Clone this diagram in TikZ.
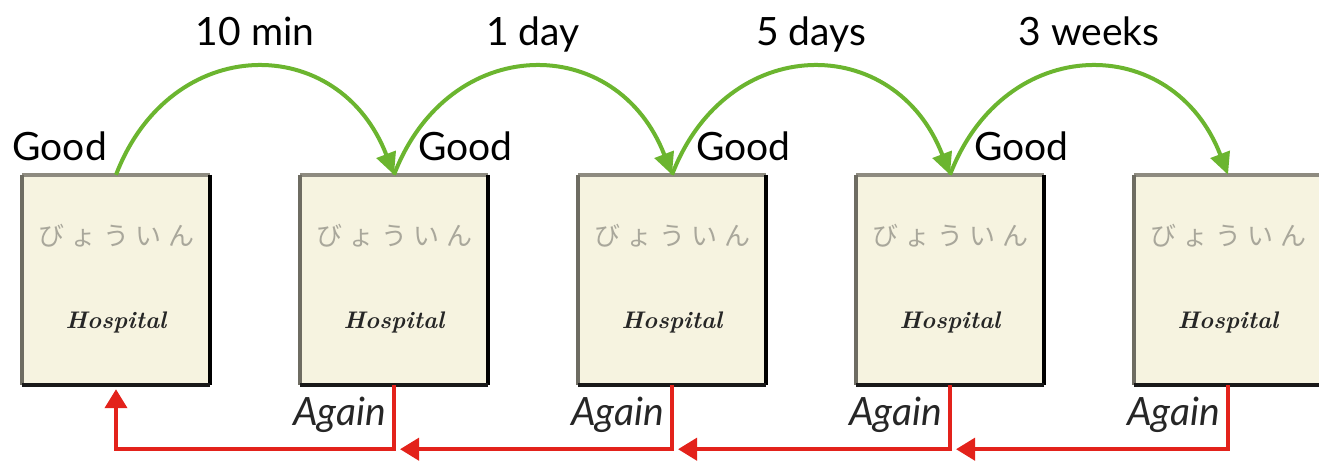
\documentclass[tikz,border=0pt]{standalone}
\usepackage{fontspec}
\setmainfont{Lato}
\newfontfamily\jpfont{Noto Sans CJK JP}
\usetikzlibrary{arrows.meta,calc}
\definecolor{cream}{HTML}{F6F3E0}
\definecolor{goodgreen}{HTML}{6BB52F}
\definecolor{againred}{HTML}{E3221B}
\definecolor{topgray}{HTML}{8E8B80}
\definecolor{leftgray}{HTML}{6E6C62}
\definecolor{jpgray}{HTML}{A9A79B}
\tikzset{
  card/.style={fill=cream, minimum width=187pt, minimum height=210pt, inner sep=0pt},
  jp/.style={font=\jpfont\fontsize{26}{28}\selectfont, text=jpgray, inner sep=0pt},
  hosp/.style={font=\fontspec{Latin Modern Roman}\bfseries\itshape\fontsize{24}{26}\selectfont, text=black!85, inner sep=0pt},
  lbl/.style={font=\fontsize{39}{42}\selectfont, inner sep=0pt},
  agl/.style={font=\itshape\fontsize{39}{42}\selectfont, inner sep=0pt, text=black!85},
  goodarc/.style={draw=goodgreen, line width=4pt, -{Triangle[length=22pt,width=20pt]}},
  againarrow/.style={draw=againred, line width=4pt, -{Triangle[length=19pt,width=22pt]}},
}
\newcommand{\cardborder}[1]{%
  \draw[topgray, line width=4pt] (#1.north west) -- (#1.north east);
  \draw[leftgray, line width=4pt] (#1.north west) -- (#1.south west);
  \draw[black, line width=4pt] (#1.north east) -- (#1.south east);
  \draw[black!90, line width=4pt] (#1.south west) -- (#1.south east);
}
\begin{document}
\begin{tikzpicture}[x=1pt,y=-1pt]
\useasboundingbox (0,0) rectangle (1319,463);
\foreach \i/\cx in {1/116,2/394,3/672,4/950,5/1228}{
  \node[card] (b\i) at (\cx,280) {};
  \cardborder{b\i}
  \node[jp] (j\i) at (\cx,236) {び\hspace{6.5pt}ょ\hspace{6.5pt}う\hspace{6.5pt}い\hspace{6.5pt}ん};
  \node[hosp] (h\i) at (\cx,322) {Hospital};
}
% green arcs
\foreach \a/\b in {1/2,2/3,3/4,4/5}{
  \draw[goodarc] (b\a.north) .. controls +(55,-143) and +(-55,-143) .. (b\b.north);
}
% time labels
\node[lbl, anchor=base] (t1) at (255,45) {10 min};
\node[lbl, anchor=base] (t2) at (533,45) {1 day};
\node[lbl, anchor=base] (t3) at (811,45) {5 days};
\node[lbl, anchor=base] (t4) at (1089,45) {3 weeks};
% good labels
\node[lbl, anchor=base east] (g1) at (107,160) {Good};
\node[lbl, anchor=base west] (g2) at (418,160) {Good};
\node[lbl, anchor=base west] (g3) at (696,160) {Good};
\node[lbl, anchor=base west] (g4) at (974,160) {Good};
% again labels
\node[agl, anchor=base east] (a2) at (386,425) {Again};
\node[agl, anchor=base east] (a3) at (664,425) {Again};
\node[agl, anchor=base east] (a4) at (942,425) {Again};
\node[agl, anchor=base east] (a5) at (1220,425) {Again};
% red arrows
\draw[againarrow, shorten >=4pt] (b2.south) -- ++(0,64) -| (b1.south);
\coordinate (r2) at ([xshift=6pt,yshift=-64pt]b2.south);
\coordinate (r3) at ([xshift=6pt,yshift=-64pt]b3.south);
\coordinate (r4) at ([xshift=6pt,yshift=-64pt]b4.south);
\draw[againarrow] (b3.south) -- ++(0,64) -- (r2);
\draw[againarrow] (b4.south) -- ++(0,64) -- (r3);
\draw[againarrow] (b5.south) -- ++(0,64) -- (r4);
\end{tikzpicture}
\end{document}
